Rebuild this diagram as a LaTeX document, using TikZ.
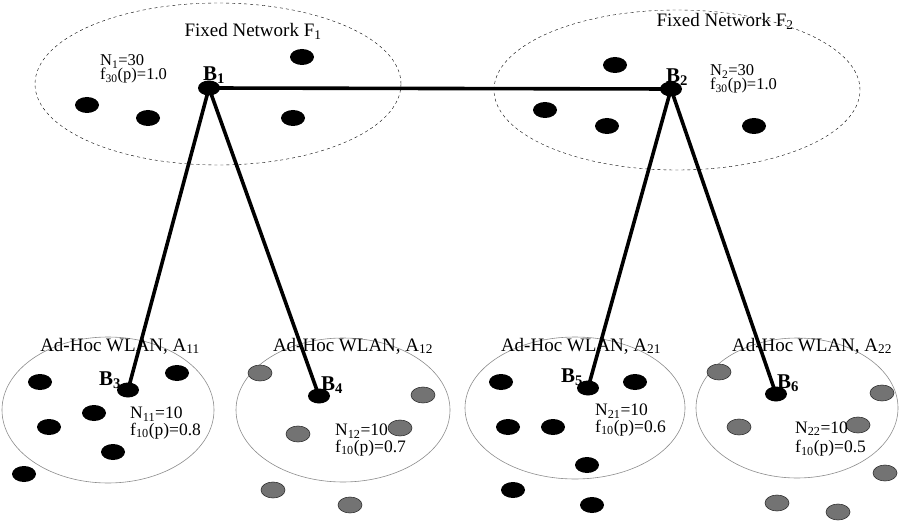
\documentclass[tikz,border=0pt]{standalone}
\usepackage{fontspec}
\setmainfont{Liberation Serif}
\usetikzlibrary{shapes.geometric}

\tikzset{
  station/.style={ellipse,fill=black,minimum width=22pt,minimum height=15pt,inner sep=0pt},
  link/.style={line width=3.6pt},
  txt/.style={font=\fontsize{19}{21}\selectfont,inner sep=0pt},
  stat/.style={font=\fontsize{17.5}{16.5}\selectfont,inner sep=0pt,align=left,anchor=west},
  btxt/.style={font=\fontsize{21}{23}\selectfont\bfseries,inner sep=0pt},
  wlan/.style={draw=black!45,line width=0.6pt},
  graydot/.style={fill=black!55,draw=black!80,line width=0.6pt}
}

\begin{document}
\begin{tikzpicture}[x=1pt,y=-1pt]
  \useasboundingbox (0,0) rectangle (901,521); % 余白を含めた描画範囲
  \draw[dashed] (218,84) ellipse [x radius=183pt,y radius=81pt]; % 固定網F1の境界（破線）
  \draw[dashed] (677,90) ellipse [x radius=183pt,y radius=80pt]; % 固定網F2の境界（破線）
  \draw[wlan] (108,410) ellipse [x radius=106pt,y radius=73pt]; % アドホックWLAN A11の境界
  \draw[wlan] (343,410) ellipse [x radius=107pt,y radius=72pt]; % アドホックWLAN A12の境界
  \draw[wlan] (575,408) ellipse [x radius=110pt,y radius=71pt]; % アドホックWLAN A21の境界
  \draw[wlan] (797,408) ellipse [x radius=101pt,y radius=70pt]; % アドホックWLAN A22の境界

  \foreach \x/\y in {302/57,87/105,148/118,293/118,615/65,545/110,607/126,754/126}
    \fill (\x,\y) ellipse [x radius=12pt,y radius=8pt]; % 固定網の端末
  \foreach \x/\y in {40/382,177/373,94/413,49/427,113/452,24/474,501/382,635/382,508/427,553/427,587/465,513/490,592/505}
    \fill (\x,\y) ellipse [x radius=12pt,y radius=8pt]; % 黒いアドホック端末
  \foreach \x/\y in {260/373,423/395,400/428,298/434,273/490,350/505,719/372,882/393,858/425,739/427,885/473,777/503,838/512}
    \filldraw[graydot] (\x,\y) ellipse [x radius=12pt,y radius=8pt]; % 灰色のアドホック端末

  \node[station] (b1) at (209,88) {}; % 基地局B1
  \node[station] (b2) at (671,89) {}; % 基地局B2
  \node[station] (b3) at (128,390) {}; % 基地局B3
  \node[station] (b4) at (319,396) {}; % 基地局B4
  \node[station] (b5) at (588,388) {}; % 基地局B5
  \node[station] (b6) at (776,394) {}; % 基地局B6

  \draw[link] (b1.center) -- (b2.center); % B1とB2を結ぶ幹線
  \draw[link] (b1.center) -- (b3.center); % B1からB3への接続
  \draw[link] (b1.center) -- (b4.center); % B1からB4への接続
  \draw[link] (b2.center) -- (b5.center); % B2からB5への接続
  \draw[link] (b2.center) -- (b6.center); % B2からB6への接続

  \node[btxt] (lb1) at (214,75) {B\textsubscript{1}}; % B1のラベル
  \node[btxt] (lb2) at (677,77) {B\textsubscript{2}}; % B2のラベル
  \node[btxt] (lb3) at (110,380) {B\textsubscript{3}}; % B3のラベル
  \node[btxt] (lb4) at (332,385) {B\textsubscript{4}}; % B4のラベル
  \node[btxt] (lb5) at (572,377) {B\textsubscript{5}}; % B5のラベル
  \node[btxt] (lb6) at (788,383) {B\textsubscript{6}}; % B6のラベル

  \node[txt] (tf1) at (253,31) {Fixed Network F\textsubscript{1}}; % F1の名前
  \node[txt] (tf2) at (725,21) {Fixed Network F\textsubscript{2}}; % F2の名前
  \node[stat,font=\fontsize{16.5}{14.5}\selectfont] (s1) at (100,69) {N\textsubscript{1}=30\\f\textsubscript{30}(p)=1.0}; % F1の端末数と確率
  \node[stat,font=\fontsize{16.5}{14.5}\selectfont] (s2) at (710,79) {N\textsubscript{2}=30\\f\textsubscript{30}(p)=1.0}; % F2の端末数と確率

  \node[txt] (ta11) at (120,346) {Ad-Hoc WLAN, A\textsubscript{11}}; % A11の名前
  \node[txt] (ta12) at (353,346) {Ad-Hoc WLAN, A\textsubscript{12}}; % A12の名前
  \node[txt] (ta21) at (581,346) {Ad-Hoc WLAN, A\textsubscript{21}}; % A21の名前
  \node[txt] (ta22) at (812,346) {Ad-Hoc WLAN, A\textsubscript{22}}; % A22の名前

  \node[stat] (s11) at (130,423) {N\textsubscript{11}=10\\f\textsubscript{10}(p)=0.8}; % A11の端末数と確率
  \node[stat] (s12) at (335,440) {N\textsubscript{12}=10\\f\textsubscript{10}(p)=0.7}; % A12の端末数と確率
  \node[stat] (s21) at (595,420) {N\textsubscript{21}=10\\f\textsubscript{10}(p)=0.6}; % A21の端末数と確率
  \node[stat] (s22) at (795,439) {N\textsubscript{22}=10\\[3pt]f\textsubscript{10}(p)=0.5}; % A22の端末数と確率
\end{tikzpicture}
\end{document}
